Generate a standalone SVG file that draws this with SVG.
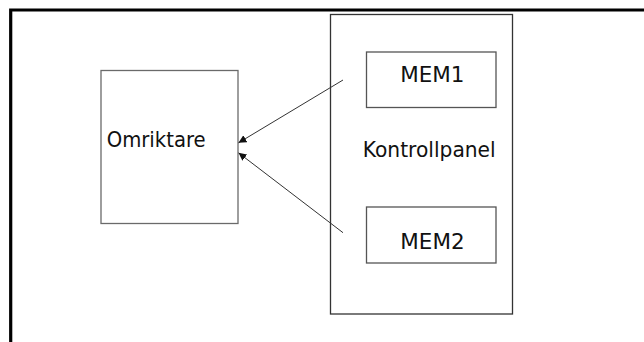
<svg xmlns="http://www.w3.org/2000/svg" width="644" height="342" viewBox="0 0 644 342">
  <style>
    .lbl { font-family: "DejaVu Sans", "Liberation Sans", sans-serif; font-size: 21px; fill: #111; }
    .box { fill: #fff; stroke: #444; stroke-width: 1.3; }
    .frame { fill: none; stroke: #000; stroke-width: 3.2; }
    .conn { fill: none; stroke: #333; stroke-width: 1; }
  </style>
  <defs>
    <marker id="arrow" viewBox="0 0 10 10" refX="10" refY="5" markerWidth="8" markerHeight="8" markerUnits="userSpaceOnUse" orient="auto">
      <path d="M0,0 L10,5 L0,10 z" fill="#111"/>
    </marker>
  </defs>
  <rect width="644" height="342" fill="#fff"/>

  <!-- page frame: top and left rules -->
  <path class="frame" d="M10.7,342 V10 H644"/>

  <g id="omriktare">
    <rect class="box" x="101" y="70.5" width="137" height="153" style="stroke:#6a6a6a"/>
    <text class="lbl" x="106.7" y="146.7" textLength="99" lengthAdjust="spacingAndGlyphs">Omriktare</text>
  </g>

  <g id="kontrollpanel">
    <rect class="box" x="330.5" y="14.5" width="182" height="299.5" style="stroke:#333"/>
    <text class="lbl" x="362.7" y="156.7" textLength="133" lengthAdjust="spacingAndGlyphs">Kontrollpanel</text>
  </g>

  <g id="mem1">
    <rect class="box" x="366.5" y="52" width="129.5" height="55.5" style="stroke:#555"/>
    <text class="lbl" x="400.2" y="82.2" textLength="64.3" lengthAdjust="spacingAndGlyphs">MEM1</text>
  </g>

  <g id="mem2">
    <rect class="box" x="366.5" y="207" width="129.5" height="56" style="stroke:#555"/>
    <text class="lbl" x="400.3" y="249.3" textLength="64.3" lengthAdjust="spacingAndGlyphs">MEM2</text>
  </g>

  <g id="connectors">
    <line class="conn" x1="343" y1="80" x2="238.5" y2="142.8" marker-end="url(#arrow)"/>
    <line class="conn" x1="343" y1="232.7" x2="238.5" y2="152.8" marker-end="url(#arrow)"/>
  </g>
</svg>
